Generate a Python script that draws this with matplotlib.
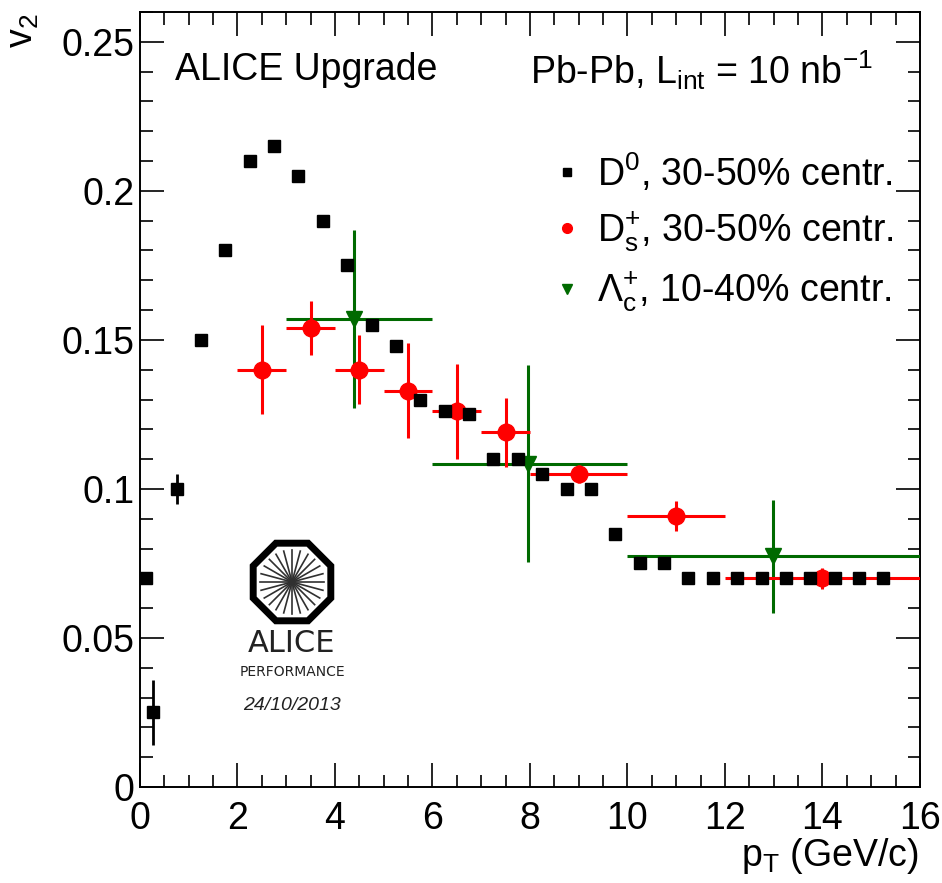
import numpy as np
import matplotlib
matplotlib.use("Agg")
import matplotlib.pyplot as plt
from matplotlib.lines import Line2D
from matplotlib.patches import RegularPolygon
from matplotlib.ticker import MultipleLocator, FixedLocator

plt.rcParams['font.family'] = ['Liberation Sans', 'DejaVu Sans']
plt.rcParams['mathtext.fontset'] = 'custom'
plt.rcParams['mathtext.rm'] = 'Liberation Sans'
plt.rcParams['mathtext.it'] = 'Liberation Sans:italic'
plt.rcParams['mathtext.default'] = 'regular'

# D0, 30-50% centrality
d0_pt = [0.12, 0.27, 0.76, 1.25, 1.75, 2.25, 2.75, 3.25, 3.75, 4.25, 4.75, 5.25, 5.75,
         6.25, 6.75, 7.25, 7.75, 8.25, 8.75, 9.25, 9.75, 10.25, 10.75, 11.25, 11.75,
         12.25, 12.75, 13.25, 13.75, 14.25, 14.75, 15.25]
d0_v2 = [0.070, 0.025, 0.100, 0.150, 0.180, 0.210, 0.215, 0.205, 0.190, 0.175, 0.155,
         0.148, 0.130, 0.126, 0.125, 0.110, 0.110, 0.105, 0.100, 0.100, 0.085, 0.075,
         0.075, 0.070, 0.070, 0.070, 0.070, 0.070, 0.070, 0.070, 0.070, 0.070]
d0_err = [0.001, 0.011, 0.005] + [0.001] * 29

# Ds+, 30-50% centrality
ds_pt = [2.5, 3.5, 4.5, 5.5, 6.5, 7.5, 9.0, 11.0, 14.0]
ds_xerr = [0.5, 0.5, 0.5, 0.5, 0.5, 0.5, 1.0, 1.0, 2.0]
ds_v2 = [0.140, 0.154, 0.140, 0.133, 0.126, 0.119, 0.105, 0.091, 0.070]
ds_err = [0.015, 0.009, 0.0115, 0.016, 0.016, 0.0115, 0.003, 0.005, 0.0035]

# Lambda_c+, 10-40% centrality
lc_pt = [4.4, 7.96, 12.98]
lc_lo = [3.0, 6.0, 10.0]
lc_hi = [6.0, 10.0, 16.0]
lc_v2 = [0.157, 0.1085, 0.0774]
lc_err = [0.030, 0.033, 0.019]

red = '#ff0000'
green = '#006a00'

fig = plt.figure(figsize=(9.42, 8.83), dpi=100)
ax = fig.add_axes([0.1486, 0.1087, 0.8280, 0.8777])

# Lambda_c
lc_xerr = [np.subtract(lc_pt, lc_lo), np.subtract(lc_hi, lc_pt)]
ax.errorbar(lc_pt, lc_v2, xerr=lc_xerr, yerr=lc_err, fmt='v', color=green,
            ms=11, elinewidth=2.2, capsize=0, zorder=3)
# Ds
ax.errorbar(ds_pt, ds_v2, xerr=ds_xerr, yerr=ds_err, fmt='o', color=red,
            ms=12, elinewidth=2.2, capsize=0, zorder=4)
# D0
ax.errorbar(d0_pt, d0_v2, yerr=d0_err, fmt='s', color='black',
            ms=8, elinewidth=2, capsize=0, zorder=5)

ax.set_xlim(0, 16)
ax.set_ylim(0, 0.26)
ax.xaxis.set_major_locator(MultipleLocator(2))
ax.xaxis.set_minor_locator(MultipleLocator(0.5))
ax.yaxis.set_major_locator(FixedLocator([0, 0.05, 0.1, 0.15, 0.2, 0.25]))
ax.yaxis.set_minor_locator(MultipleLocator(0.01))
ax.set_yticklabels(['0', '0.05', '0.1', '0.15', '0.2', '0.25'])
ax.tick_params(which='both', direction='in', top=True, right=True, width=1.2)
ax.tick_params(which='major', length=17, labelsize=27)
ax.tick_params(which='minor', length=9)
ax.tick_params(axis='x', pad=10)
ax.tick_params(axis='y', pad=4)
for s in ax.spines.values():
    s.set_linewidth(1.4)

fig.text(0.005, 0.985, 'v$_2$', rotation=90, ha='left', va='top', fontsize=27)
fig.text(0.975, 0.008, 'p$_T$ (GeV/c)', ha='right', va='bottom', fontsize=27)

ax.text(0.045, 0.925, 'ALICE Upgrade', transform=ax.transAxes, fontsize=27, va='center')
ax.text(0.50, 0.925, 'Pb-Pb, L$_{int}$ = 10 nb$^{-1}$', transform=ax.transAxes,
        fontsize=27, va='center')

handles = [
    Line2D([], [], marker='s', color='black', ls='none', ms=6),
    Line2D([], [], marker='o', color=red, ls='none', ms=7),
    Line2D([], [], marker='v', color=green, ls='none', ms=7),
]
labels = ['D$^{0}$, 30-50% centr.', 'D$_{s}^{+}$, 30-50% centr.',
          '$\\Lambda_{c}^{+}$, 10-40% centr.']
ax.legend(handles, labels, loc='upper right', bbox_to_anchor=(0.985, 0.84),
          frameon=False, fontsize=27, handlelength=0.6, handletextpad=0.5,
          labelspacing=0.42, borderaxespad=0)

# ALICE performance logo
cx, cy = 292 / 942, 1 - 582 / 883
oct_ = RegularPolygon((cx * 942, cy * 883), numVertices=8, radius=42,
                      orientation=np.pi / 8, fill=False, lw=5, ec='black',
                      transform=None, zorder=6)
fig.patches.append(oct_)
for a in np.arange(0, np.pi, np.pi / 12):
    dx, dy = 32 * np.cos(a), 32 * np.sin(a)
    fig.add_artist(Line2D([cx * 942 - dx, cx * 942 + dx], [cy * 883 - dy, cy * 883 + dy],
                          transform=None, color='#303030', lw=1.2))
fig.text(cx, 1 - 643 / 883, 'ALICE', ha='center', va='center', fontsize=22,
         family=['Liberation Sans Narrow', 'DejaVu Sans'], color='#222222')
fig.text(cx, 1 - 672 / 883, 'PERFORMANCE', ha='center', va='center', fontsize=10,
         family=['Liberation Sans Narrow', 'DejaVu Sans'], color='#222222')
fig.text(cx, 1 - 706 / 883, '24/10/2013', ha='center', va='center', fontsize=14,
         style='italic', color='#222222')

fig.savefig('out.png', dpi=100)
